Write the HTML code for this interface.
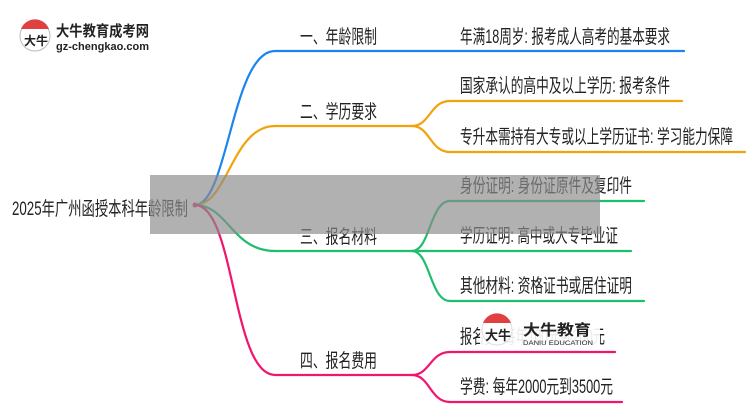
<!DOCTYPE html>
<html><head><meta charset="utf-8"><style>
body{margin:0;background:#fff;}
svg text{font-family:"Liberation Sans","Noto Sans CJK SC",sans-serif;fill:#222;}
</style></head><body>
<svg width="750" height="410" viewBox="0 0 750 410" xmlns="http://www.w3.org/2000/svg">
<g fill="none" stroke-width="2.2" stroke-linecap="round">
<path d="M195 205 C228 205 232 51 275 51 L684 51" stroke="#1a84f0"/>
<path d="M195 205 C228 205 232 126 275 126 L412 126" stroke="#f0a30a"/>
<path d="M412 126 C430 126 430 101 450 101 L682 101" stroke="#f0a30a"/>
<path d="M412 126 C430 126 430 152 450 152 L745 152" stroke="#f0a30a"/>
<path d="M195 205 C228 205 232 251 275 251 L412 251" stroke="#1ebe6e"/>
<path d="M412 251 C430 251 430 201 450 201 L644 201" stroke="#1ebe6e"/>
<path d="M412 251 L631 251" stroke="#1ebe6e"/>
<path d="M412 251 C430 251 430 301 450 301 L644 301" stroke="#1ebe6e"/>
<path d="M195 205 C235 205 232 375 275 375 L412 375" stroke="#f0156e"/>
<path d="M412 375 C430 375 430 352 450 352 L615 352" stroke="#f0156e"/>
<path d="M412 375 C430 375 430 402 450 402 L622 402" stroke="#f0156e"/>
</g>
<circle cx="195" cy="205" r="2.5" fill="#e0306a"/>
<g font-size="19">
<text x="12" y="215" textLength="176" lengthAdjust="spacingAndGlyphs">2025年广州函授本科年龄限制</text>
<text x="300" y="43" textLength="77" lengthAdjust="spacingAndGlyphs">一、年龄限制</text>
<text x="300" y="118" textLength="77" lengthAdjust="spacingAndGlyphs">二、学历要求</text>
<text x="300" y="243" textLength="77" lengthAdjust="spacingAndGlyphs">三、报名材料</text>
<text x="300" y="367" textLength="77" lengthAdjust="spacingAndGlyphs">四、报名费用</text>
<text x="460" y="43" textLength="210" lengthAdjust="spacingAndGlyphs">年满18周岁: 报考成人高考的基本要求</text>
<text x="460" y="92" textLength="210" lengthAdjust="spacingAndGlyphs">国家承认的高中及以上学历: 报考条件</text>
<text x="460" y="143" textLength="273" lengthAdjust="spacingAndGlyphs">专升本需持有大专或以上学历证书: 学习能力保障</text>
<text x="460" y="192" textLength="172" lengthAdjust="spacingAndGlyphs">身份证明: 身份证原件及复印件</text>
<text x="460" y="242" textLength="158" lengthAdjust="spacingAndGlyphs">学历证明: 高中或大专毕业证</text>
<text x="460" y="292" textLength="172" lengthAdjust="spacingAndGlyphs">其他材料: 资格证书或居住证明</text>
<text x="460" y="343" textLength="145" lengthAdjust="spacingAndGlyphs">报名费: 每年100元到200元</text>
<text x="460" y="393" textLength="153" lengthAdjust="spacingAndGlyphs">学费: 每年2000元到3500元</text>
</g>
<rect x="150" y="175" width="450" height="59" fill="rgba(140,140,140,0.68)"/>
<rect x="480" y="311" width="120" height="38" fill="rgba(255,255,255,0.9)"/>
<circle cx="497" cy="330" r="15" fill="#fff" stroke="#ddd"/>
<path d="M483 323 A15 15 0 0 1 511 323 Z" fill="#e04040"/>
<text x="485" y="340" font-size="13" font-weight="bold" fill="#333">大牛</text>
<text x="523" y="335" font-size="15" font-weight="bold" fill="#333" textLength="68" lengthAdjust="spacingAndGlyphs">大牛教育</text>
<text x="523" y="345" font-size="6" fill="#555" textLength="70" lengthAdjust="spacingAndGlyphs">DANIU EDUCATION</text>
<circle cx="35" cy="36" r="15" fill="#fff" stroke="#bbb"/>
<path d="M21 29 A15 15 0 0 1 49 29 Z" fill="#e04040"/>
<text x="24" y="45" font-size="12" font-weight="bold" fill="#222">大牛</text>
<text x="56" y="36" font-size="15" font-weight="bold" fill="#2f8a3a" textLength="93" lengthAdjust="spacingAndGlyphs">大牛教育成考网</text>
<text x="56" y="50" font-size="11" font-weight="bold" fill="#2f8a3a" textLength="93" lengthAdjust="spacingAndGlyphs">gz-chengkao.com</text>
</svg>
</body></html>
